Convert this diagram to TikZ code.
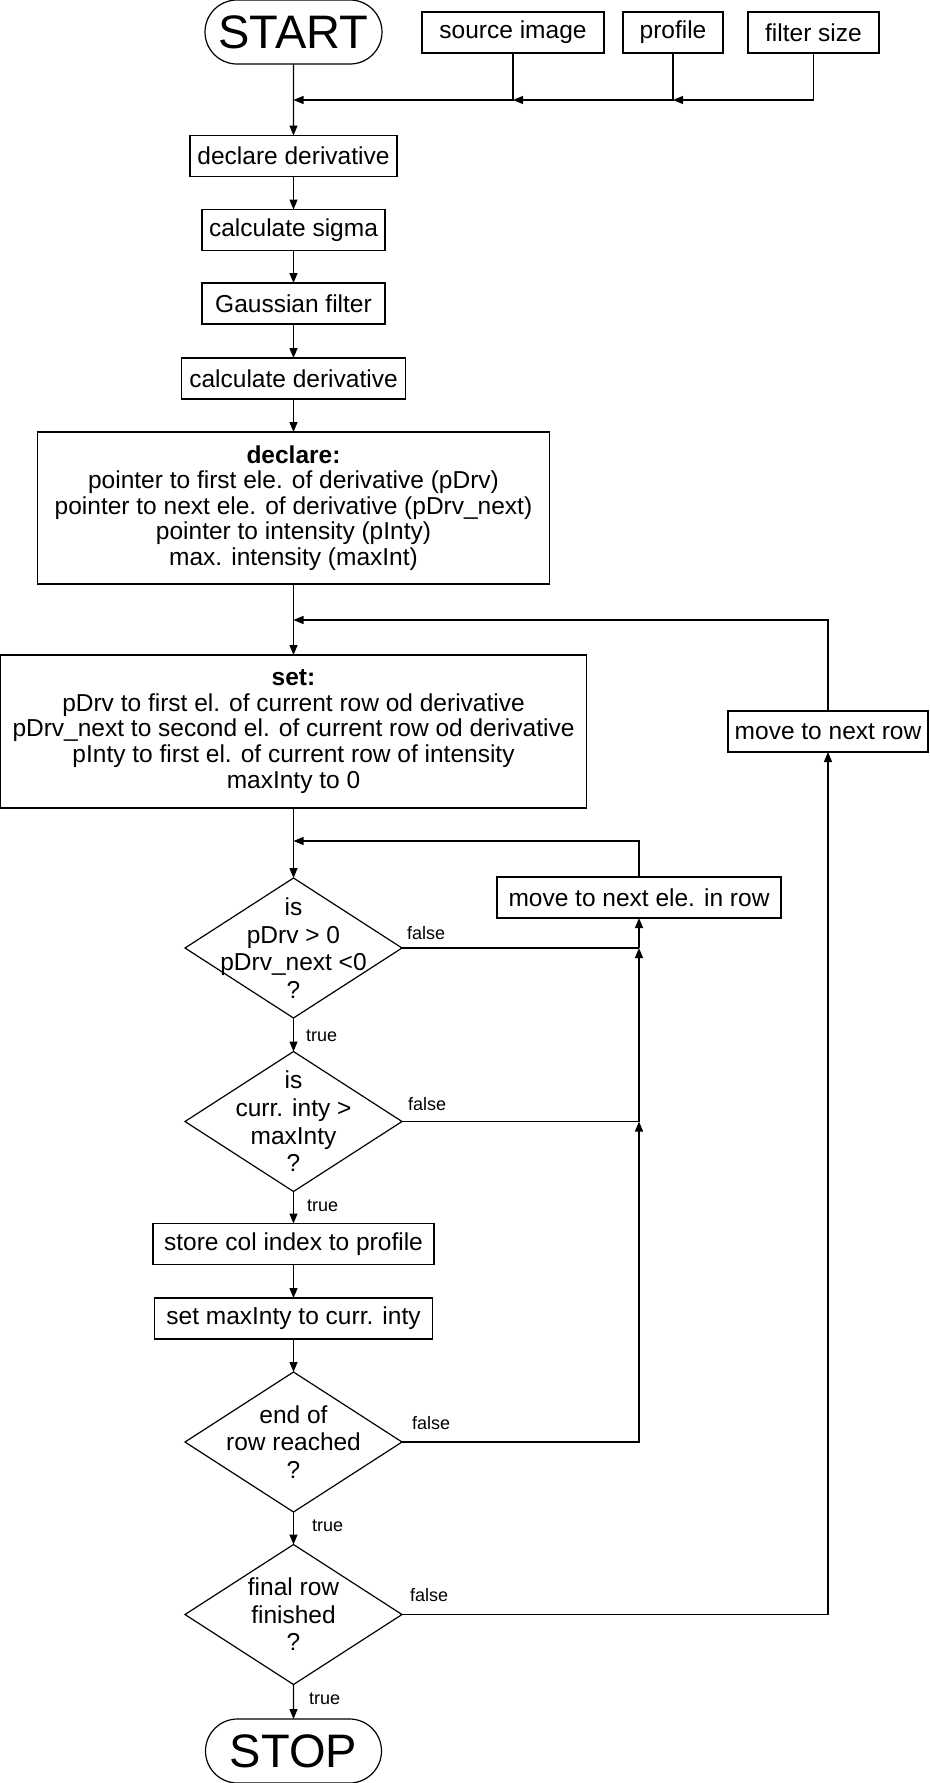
\documentclass[tikz,border=0pt]{standalone}
\usepackage{fontspec}
\setmainfont{Liberation Sans}
\usetikzlibrary{arrows.meta,shapes.geometric,shapes.misc}

\begin{document}
\begin{tikzpicture}[x=1pt,y=-1pt,
  every node/.style={inner sep=0pt, outer sep=0pt},
  line/.style={draw=black, line width=1.2pt},
  arr/.style={line, -{Triangle[length=10pt,width=8pt]}},
  proc/.style={draw=black, line width=1.2pt, minimum height=41pt,
    font=\fontsize{24.5}{25.6}\selectfont, align=center},
  term/.style={draw=black, rounded rectangle, line width=1.2pt,
    minimum height=64pt, font=\fontsize{47}{50}\selectfont},
  dia/.style={draw=black, diamond, line width=1.2pt,
    minimum width=217pt, minimum height=140pt},
  diatext/.style={font=\fontsize{24.5}{27.6}\selectfont, align=center},
  lbl/.style={font=\fontsize{18}{20}\selectfont, anchor=base west}
]
\useasboundingbox (0,0) rectangle (929,1783);

% inputs
\node[term, minimum width=177pt] (start) at (293.5,32) {START};
\node[proc, minimum width=182pt] (src)  at (513,32.5)   {source image};
\node[proc, minimum width=100pt] (prof) at (673,32.5)   {profile};
\node[proc, minimum width=131pt] (filt) at (813.5,32.5) {filter size};
\coordinate (j0) at (293.5,100);
\coordinate (j1) at (513,100);
\coordinate (j2) at (673,100);

% preparation chain
\node[proc, minimum width=207pt] (dd) at (293.5,156)   {declare derivative};
\node[proc, minimum width=183pt] (cs) at (293.5,230)   {calculate sigma};
\node[proc, minimum width=183pt] (gf) at (293.5,303.5) {Gaussian filter};
\node[proc, minimum width=224pt] (cd) at (293.5,378.5) {calculate derivative};
\node[proc, minimum width=512pt, minimum height=152pt] (decl) at (293.5,508)
  {\textbf{declare:}\\pointer to first ele. of derivative (pDrv)\\pointer to next ele. of derivative (pDrv\_next)\\pointer to intensity (pInty)\\max. intensity (maxInt)};
\coordinate (j3) at (293.5,620);
\node[proc, minimum width=586pt, minimum height=153pt] (set) at (293.5,731.5)
  {\textbf{set:}\\pDrv to first el. of current row od derivative\\pDrv\_next to second el. of current row od derivative\\pInty to first el. of current row of intensity\\maxInty to 0};
\node[proc, minimum width=200pt] (mnr) at (828,731.5) {move to next row};

% row loop
\coordinate (j4) at (293.5,841);
\node[proc, minimum width=284pt] (mne) at (639,897.5) {move to next ele. in row};
\node[dia] (d1) at (293.5,948) {};
\node[diatext] (d1t) at (d1) {is\\pDrv > 0\\pDrv\_next <0\\?};
\node[dia] (d2) at (293.5,1121.5) {};
\node[diatext] (d2t) at (d2) {is\\curr. inty >\\maxInty\\?};
\node[proc, minimum width=281pt] (scip) at (293.5,1244)   {store col index to profile};
\node[proc, minimum width=278pt] (smx)  at (293.5,1318.5) {set maxInty to curr. inty};
\node[dia] (d3) at (293.5,1442) {};
\node[diatext] (d3t) at (d3) {end of\\row reached\\?};
\node[dia] (d4) at (293.5,1614.5) {};
\node[diatext] (d4t) at (d4) {final row\\finished\\?};
\node[term, minimum width=176pt] (stop) at (293.5,1751) {STOP};
\coordinate (k1) at (639,948);
\coordinate (k2) at (639,1121.5);

% connectors: inputs
\draw[arr] (start) -- (dd);
\draw[arr] (filt.south) |- (j2);
\draw[arr] (prof.south) -- (j2) -- (j1);
\draw[arr] (src.south) -- (j1) -- (j0);

% connectors: main column
\draw[arr] (dd) -- (cs);
\draw[arr] (cs) -- (gf);
\draw[arr] (gf) -- (cd);
\draw[arr] (cd) -- (decl);
\draw[arr] (decl) -- (set);
\draw[arr] (mnr.north) |- (j3);
\draw[arr] (set) -- (d1);
\draw[arr] (mne.north) |- (j4);
\draw[arr] (d1) -- (d2);
\draw[arr] (d2) -- (scip);
\draw[arr] (scip) -- (smx);
\draw[arr] (smx) -- (d3);
\draw[arr] (d3) -- (d4);
\draw[arr] (d4) -- (stop);

% connectors: false branches
\draw[line] (d1.east) -- (k1);
\draw[arr] (k1) -- (mne.south);
\draw[line] (d2.east) -- (k2);
\draw[arr] (k2) -- (k1);
\draw[arr] (d3.east) -| (k2);
\draw[arr] (d4.east) -| (mnr.south);

% branch labels
\node[lbl] (f1) at (407,939)  {false};
\node[lbl] (f2) at (408,1110) {false};
\node[lbl] (f3) at (412,1429) {false};
\node[lbl] (f4) at (410,1601) {false};
\node[lbl] (t1) at (306,1041) {true};
\node[lbl] (t2) at (307,1211) {true};
\node[lbl] (t3) at (312,1531) {true};
\node[lbl] (t4) at (309,1704) {true};
\end{tikzpicture}
\end{document}
